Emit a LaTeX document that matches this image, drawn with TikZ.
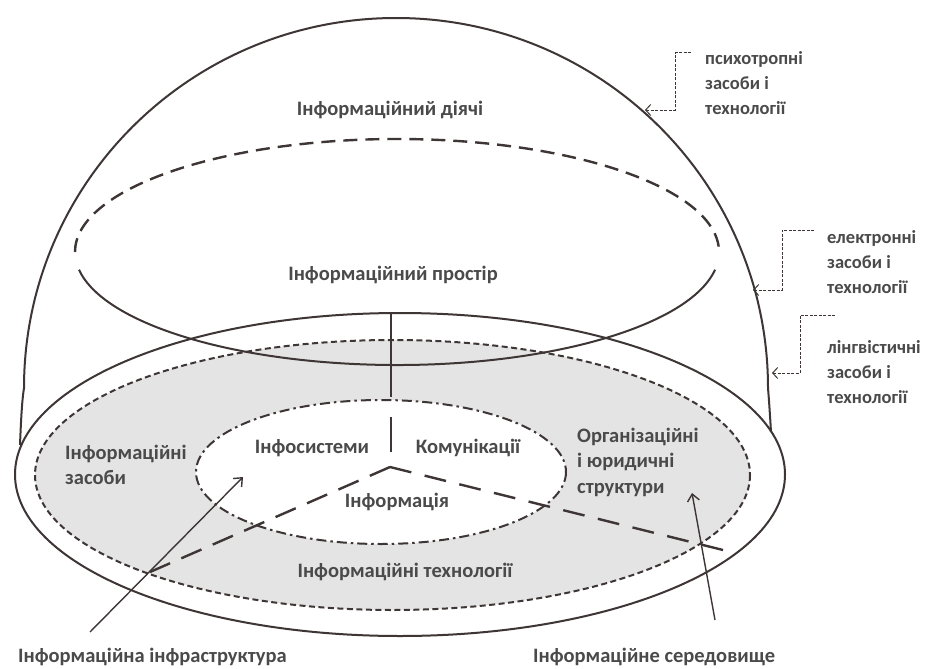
\documentclass[tikz,border=0pt]{standalone}
\usepackage{fontspec}
\setmainfont{Carlito}
\usetikzlibrary{arrows.meta}
\definecolor{ln}{HTML}{3E3535}
\definecolor{tx}{HTML}{4A4A4A}
\definecolor{fillgray}{HTML}{E4E4E4}
\begin{document}
\begin{tikzpicture}[x=1pt,y=-1pt,
  every node/.style={font=\fontsize{20.5}{25.5}\selectfont\bfseries, text=tx, inner sep=0pt},
  sidelabel/.style={anchor=west, align=left, font=\fontsize{18.5}{25.3}\selectfont\bfseries},
  solidline/.style={draw=ln, line width=2pt},
  longdash/.style={draw=ln, line width=2.4pt, dash pattern=on 14pt off 8pt},
  shortdash/.style={draw=ln, line width=2pt, dash pattern=on 6pt off 3.5pt},
  dashdot/.style={draw=ln, line width=2pt, dash pattern=on 10pt off 4pt on 2.5pt off 4pt},
  apexdash/.style={draw=ln, line width=2.4pt},
  bracket/.style={draw=ln, line width=1pt, dash pattern=on 3pt off 1.5pt, {Straight Barb[length=5pt,width=11pt]}-},
  pointer/.style={draw=ln, line width=1.4pt, -{Straight Barb[length=7pt,width=12pt]}}
]
\useasboundingbox (0,0) rectangle (926,669);
\fill[white] (0,0) rectangle (926,669);
% fills
\fill[fillgray] (392.5,475) ellipse[x radius=357.5, y radius=135];
\fill[white] (381,472) ellipse[x radius=185, y radius=72];
% dome
\draw[solidline] (20,445) .. controls (21,420) and (22,400) .. (24,388) arc[start angle=180, end angle=360, x radius=372, y radius=370] .. controls (769,400) and (770,415) .. (771,432);
% outer base ellipse
\draw[solidline] (400,474.5) ellipse[x radius=385, y radius=161.5];
% gray dashed ellipse
\draw[shortdash] (392.5,475) ellipse[x radius=357.5, y radius=135];
% white dash-dot ellipse
\draw[dashdot] (381,472) ellipse[x radius=185, y radius=72];
% middle ellipse: upper dashed, lower solid
\draw[longdash] (75,252) arc[start angle=180, end angle=360, x radius=322, y radius=113];
\draw[solidline] (397,252) ++(9:322 and 113) arc[start angle=9, end angle=171, x radius=322, y radius=113];
% vertical lines and apex lines
\coordinate (v1) at (391,313); \coordinate (v2) at (391,397);
\coordinate (v3) at (391,417); \coordinate (v4) at (391,452);
\coordinate (apex) at (390,467);
\coordinate (apexL) at (150,572);
\coordinate (apexR) at (723,550);
\draw[solidline] (v1) -- (v2);
\draw[solidline] (v3) -- (v4);
\draw[apexdash, dash pattern=on 22pt off 12.3pt] (apex) -- (apexL);
\draw[apexdash, dash pattern=on 22pt off 13.7pt] (apex) -- (apexR);
% texts
\node (t1) at (390,110) {Інформаційний діячі};
\node (t2) at (393,275) {Інформаційний простір};
\node[anchor=west, align=left] (t3) at (65,465) {Інформаційні\\засоби};
\node (t4) at (312,448) {Інфосистеми};
\node (t5) at (468,448) {Комунікації};
\node (t6) at (397,502) {Інформація};
\node[anchor=west, align=left] (t7) at (577,462) {Організаційні\\і юридичні\\структури};
\node (t8) at (405,572) {Інформаційні технології};
\node[anchor=west] (t9) at (18,657) {Інформаційна інфраструктура};
\node[anchor=west] (t10) at (533,657) {Інформаційне середовище};
\node[sidelabel] (r1) at (705,83) {психотропні\\засоби і\\технології};
\node[sidelabel] (r2) at (827,262) {електронні\\засоби і\\технології};
\node[sidelabel] (r3) at (827,372) {лінгвістичні\\засоби і\\технології};
% pointers
\coordinate (infS) at (90,632); \coordinate (infE) at (243,477);
\coordinate (envS) at (715,620); \coordinate (envE) at (692,493);
\draw[pointer] (infS) -- (infE);
\draw[pointer] (envS) -- (envE);
% brackets
\coordinate (b1a) at (645,110); \coordinate (b1s) at (692,53);
\coordinate (b2a) at (753,290); \coordinate (b2s) at (815,230);
\coordinate (b3a) at (772,373); \coordinate (b3s) at (835,315);
\draw[bracket] (b1a) -- (675,110) |- (b1s);
\draw[bracket] (b2a) -- (782,290) |- (b2s);
\draw[bracket] (b3a) -- (800,373) |- (b3s);
\end{tikzpicture}
\end{document}
